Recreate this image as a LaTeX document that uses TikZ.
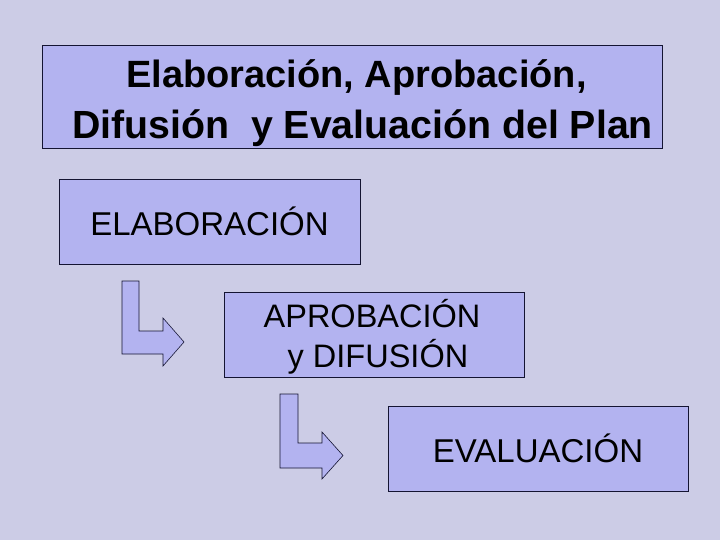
\documentclass[tikz,border=0pt]{standalone}
\usepackage{fontspec}
\setmainfont{Liberation Sans}
\definecolor{bgcol}{RGB}{204,204,230}
\definecolor{boxcol}{RGB}{179,179,240}
\definecolor{edgecol}{RGB}{20,20,50}
\begin{document}
\begin{tikzpicture}[x=1pt,y=-1pt,
  panel/.style={draw=edgecol, line width=0.8pt, fill=boxcol},
  bentarrow/.style={draw=edgecol, line width=0.6pt, fill=boxcol, line join=miter},
  lbl/.style={font=\fontsize{32.5}{37}\selectfont, anchor=base, inner sep=0pt, text=black},
  ttl/.style={font=\bfseries, anchor=base, inner sep=0pt, text=black}]
\fill[bgcol] (0,0) rectangle (720,540);
\useasboundingbox (0,0) rectangle (720,540);
% title
\draw[panel] (42,45) rectangle (662,148);
\node[ttl, font=\bfseries\fontsize{38}{44}\selectfont] (title1) at (356.5,87.5)
  {Elaboración, Aprobación,};
\node[ttl, font=\bfseries\fontsize{39.3}{44}\selectfont] (title2) at (362.5,139)
  {Difusión\ \ y Evaluación del Plan};
% boxes
\draw[panel] (59,179) rectangle (360,264);
\node[lbl, font=\fontsize{33}{37}\selectfont] (elab) at (209.5,236) {ELABORACIÓN};
\draw[panel] (224,292) rectangle (524,377);
\node[lbl] (apro1) at (372,327) {APROBACIÓN};
\node[lbl] (apro2) at (378,367) {y DIFUSIÓN};
\draw[panel] (388,406) rectangle (688,491);
\node[lbl, font=\fontsize{33}{37}\selectfont] (eval) at (538,462) {EVALUACIÓN};
% bent arrows
\draw[bentarrow] (122,281) -- (139,281) -- (139,331) -- (163,331) -- (163,318)
  -- (184,342) -- (163,366) -- (163,354) -- (122,354) -- cycle;
\draw[bentarrow] (280,394) -- (298,394) -- (298,443) -- (322,443) -- (322,432)
  -- (343,455.5) -- (322,479) -- (322,468) -- (280,468) -- cycle;
\end{tikzpicture}
\end{document}
